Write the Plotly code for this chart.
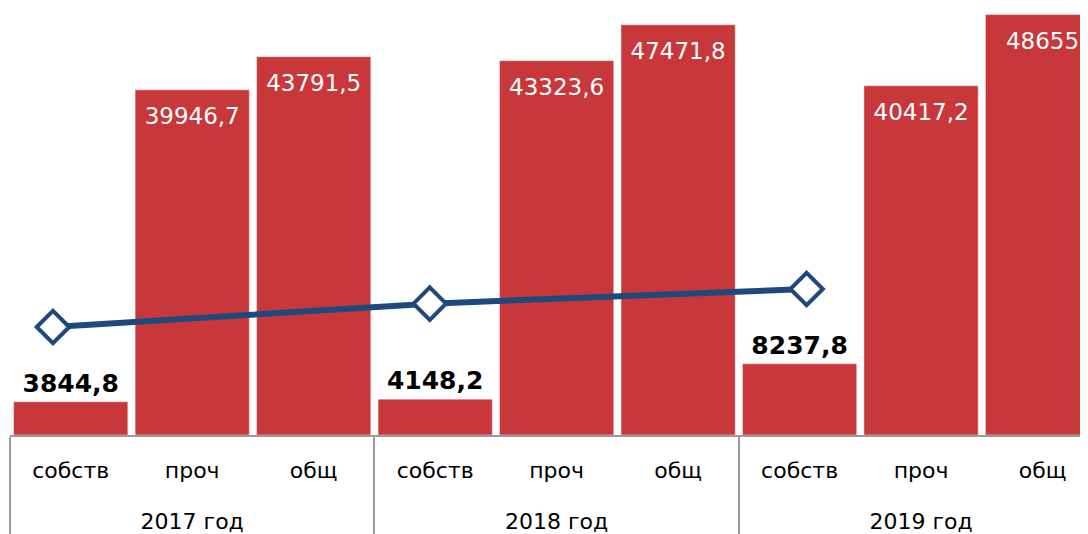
import plotly.graph_objects as go

# categories
years = ["2017 год", "2018 год", "2019 год"]
kinds = ["собств", "проч", "общ"]

# bar values per year: собств, проч, общ
values_2017 = [3844.8, 39946.7, 43791.5]
values_2018 = [4148.2, 43323.6, 47471.8]
values_2019 = [8237.8, 40417.2, 48655]

# trend line
trend_values = [12500, 15200, 16900]

RED = "#C8383A"
BLUE = "#1F497D"

xs_year, xs_kind, ys = [], [], []
for yr, vals in zip(years, [values_2017, values_2018, values_2019]):
    for k, v in zip(kinds, vals):
        xs_year.append(yr)
        xs_kind.append(k)
        ys.append(v)


def fmt(v):
    s = ("%.1f" % v).replace(".", ",")
    return s[:-2] if s.endswith(",0") else s


SPAN = "<span style='font-size:22px'>%s</span>"
# year row sits lower than the category row
year_lbl = ["<br>" + SPAN % y for y in xs_year]
kind_lbl = [SPAN % k for k in xs_kind]
own = [k == "собств" for k in xs_kind]
big = [not o for o in own]


def pick(seq, mask):
    return [s for s, m in zip(seq, mask) if m]


fig = go.Figure()

fig.add_trace(go.Bar(
    x=[year_lbl, kind_lbl],
    y=ys,
    marker=dict(color=RED),
    showlegend=False,
    hoverinfo="skip",
))

# bold labels above the small bars
fig.add_trace(go.Scatter(
    x=[pick(year_lbl, own), pick(kind_lbl, own)],
    y=pick(ys, own),
    mode="markers+text",
    marker=dict(size=4, color="rgba(0,0,0,0)"),
    text=[fmt(v) for v in pick(ys, own)],
    textposition="top center",
    textfont=dict(family="DejaVu Sans", size=25, color="black", weight="bold"),
    cliponaxis=False,
    showlegend=False,
))

# white labels inside the tall bars, near the top
fig.add_trace(go.Scatter(
    x=[pick(year_lbl, big), pick(kind_lbl, big)],
    y=pick(ys, big),
    mode="markers+text",
    marker=dict(size=26, color="rgba(0,0,0,0)"),
    text=[fmt(v) for v in pick(ys, big)],
    textposition="bottom center",
    textfont=dict(family="DejaVu Sans", size=23, color="white"),
    cliponaxis=False,
    showlegend=False,
))

fig.add_trace(go.Scatter(
    x=years,
    y=trend_values,
    xaxis="x2",
    mode="lines+markers",
    line=dict(color=BLUE, width=6),
    marker=dict(symbol="diamond", size=25, color="white",
                line=dict(color=BLUE, width=4)),
    showlegend=False,
))

fig.update_layout(
    width=1088, height=534,
    margin=dict(l=2, r=0, t=0, b=107),
    paper_bgcolor="white", plot_bgcolor="white",
    bargap=0.06,
    font=dict(family="DejaVu Sans", size=22, color="black"),
    xaxis=dict(
        type="multicategory",
        range=[-0.5, 8.44],
        showline=True, linecolor="#9a9a9a", linewidth=1.5,
        showdividers=True, dividercolor="#9a9a9a", dividerwidth=1.5,
        ticks="", showgrid=False,
        ticklabelstandoff=10,
        tickfont=dict(family="DejaVu Sans", size=26, color="black"),
    ),
    xaxis2=dict(
        type="category", overlaying="x", visible=False,
        range=[-0.114, 2.768],
    ),
    yaxis=dict(range=[0, 49420], visible=False, showgrid=False),
)

fig.write_html("out.html")
